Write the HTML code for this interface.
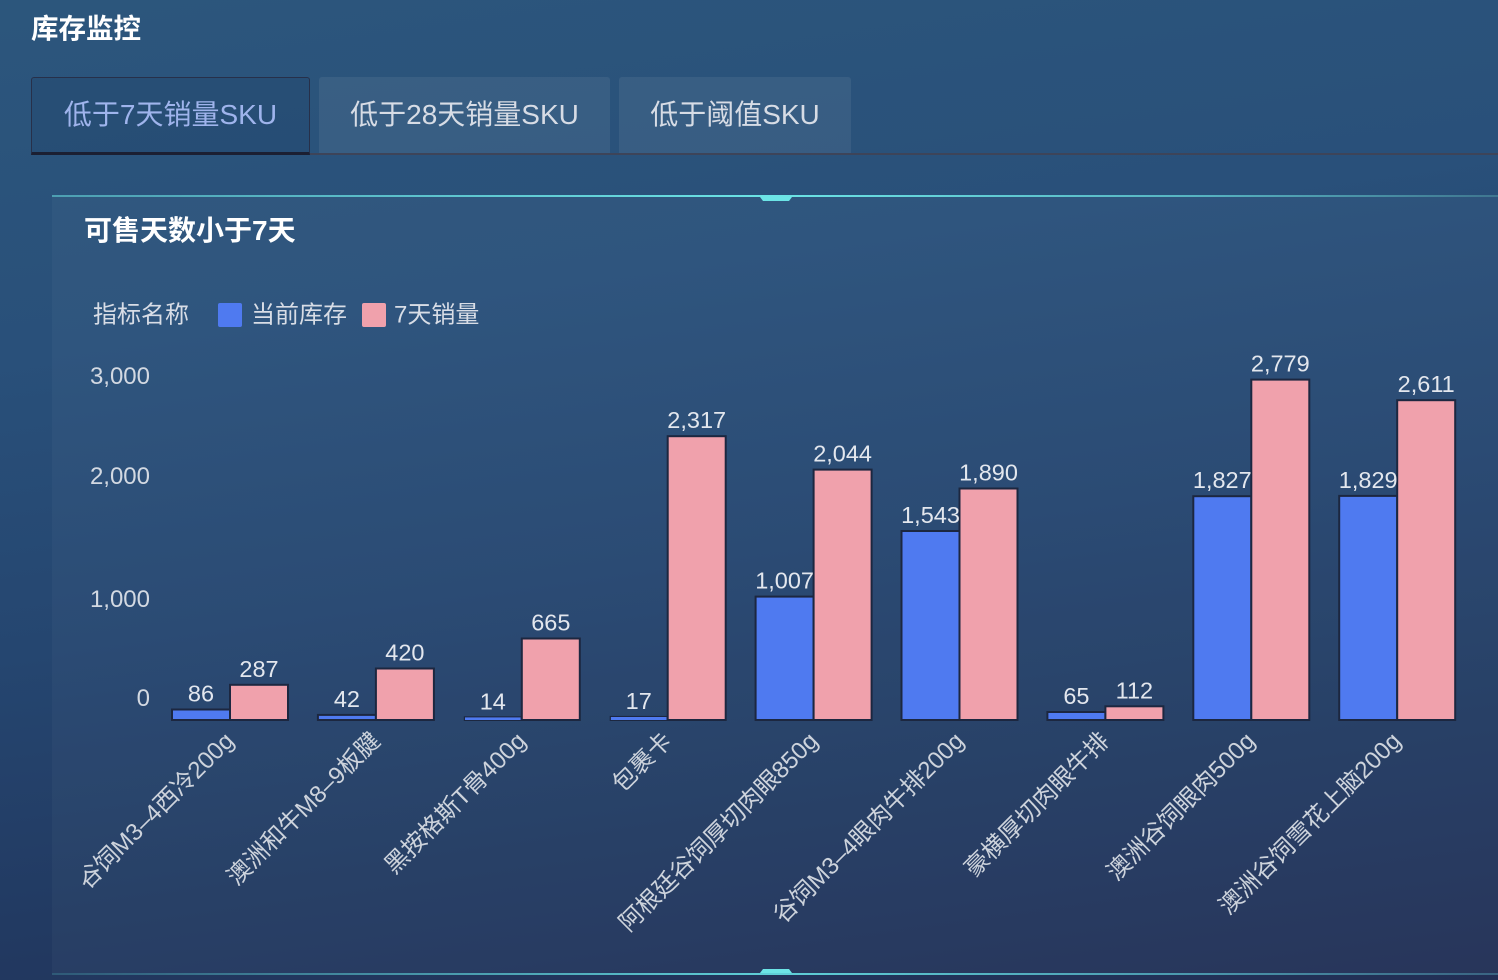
<!DOCTYPE html>
<html>
<head>
<meta charset="utf-8">
<style>
  html,body{margin:0;padding:0;}
  body{width:1498px;height:980px;overflow:hidden;position:relative;
    font-family:"Liberation Sans","Noto Sans CJK SC",sans-serif;
    background:linear-gradient(172deg,#2c567c 0%,#29507a 30%,#254670 55%,#223a62 78%,#222f55 100%);}
  .title{position:absolute;left:31px;top:11px;font-size:27.5px;font-weight:bold;color:#fff;line-height:36px;}
  .tabline{position:absolute;left:31px;top:153px;width:1467px;height:2px;background:#3d4459;}
  .tab{position:absolute;top:77px;height:76px;line-height:76px;font-size:28px;text-align:center;box-sizing:border-box;border-radius:3px 3px 0 0;}
  .t1{left:31px;width:279px;color:#9fb4ec;border:1.5px solid #27304a;border-bottom:3px solid #1b1f32;height:78px;line-height:73px;background:rgba(20,40,70,0.12);}
  .t2{left:319px;width:291px;color:#d7dce5;background:rgba(255,255,255,0.065);}
  .t3{left:619px;width:232px;color:#d7dce5;background:rgba(255,255,255,0.065);}
  .panel{position:absolute;left:52px;top:196px;width:1446px;height:778px;background:rgba(255,255,255,0.03);}
  .ptitle{position:absolute;left:84px;top:213px;font-size:28px;font-weight:bold;color:#fff;line-height:36px;}
  svg{position:absolute;left:0;top:0;}
</style>
</head>
<body>
<div class="title">库存监控</div>
<div class="tab t2">低于28天销量SKU</div>
<div class="tab t3">低于阈值SKU</div>
<div class="tabline"></div>
<div class="tab t1">低于7天销量SKU</div>
<div class="panel"></div>
<div class="ptitle">可售天数小于7天</div>

<svg width="1498" height="980" viewBox="0 0 1498 980" xmlns="http://www.w3.org/2000/svg" font-family="Liberation Sans, Noto Sans CJK SC, sans-serif">
  <defs>
    <linearGradient id="topline" x1="52" y1="0" x2="1498" y2="0" gradientUnits="userSpaceOnUse">
      <stop offset="0" stop-color="#4d9fb2"/>
      <stop offset="0.5" stop-color="#6ce4e6"/>
      <stop offset="0.8" stop-color="#56b2c0"/>
      <stop offset="1" stop-color="#3f7690"/>
    </linearGradient>
    <linearGradient id="botline" x1="52" y1="0" x2="1498" y2="0" gradientUnits="userSpaceOnUse">
      <stop offset="0" stop-color="#2f5a78"/>
      <stop offset="0.5" stop-color="#5fd0d8"/>
      <stop offset="0.8" stop-color="#4a96ac"/>
      <stop offset="1" stop-color="#3a6482"/>
    </linearGradient>
    <clipPath id="clipc"><rect x="82" y="0" width="1416" height="980"/></clipPath>
  </defs>

  <!-- panel borders -->
  <rect x="52" y="195" width="1446" height="2" fill="url(#topline)"/>
  <polygon points="760,197 792,197 789,201 763,201" fill="#6ce4e6"/>
  <rect x="52" y="973" width="1446" height="2" fill="url(#botline)"/>
  <polygon points="763,969 789,969 792,973 760,973" fill="#6ce4e6"/>

  <!-- legend -->
  <g font-size="24" fill="#d8dde6">
    <text x="93" y="315" dominant-baseline="central">指标名称</text>
    <rect x="218" y="303" width="24" height="24" rx="2" fill="#4f7af0"/>
    <text x="251" y="315" dominant-baseline="central">当前库存</text>
    <rect x="362" y="303" width="24" height="24" rx="2" fill="#f0a1ac"/>
    <text x="394" y="315" dominant-baseline="central">7天销量</text>
  </g>

  <!-- y axis labels -->
  <g font-size="24" fill="#d3d9e2" text-anchor="end">
    <text x="150" y="384">3,000</text>
    <text x="150" y="484">2,000</text>
    <text x="150" y="607">1,000</text>
    <text x="150" y="706">0</text>
  </g>

  <!-- bars -->
  <g stroke="#1c2740" stroke-width="2">
    <rect x="172.0" y="709.5" width="58" height="10.5" fill="#4f7af0"/>
    <rect x="230.0" y="684.8" width="58" height="35.2" fill="#f0a1ac"/>
    <rect x="317.9" y="714.9" width="58" height="5.1" fill="#4f7af0"/>
    <rect x="375.9" y="668.5" width="58" height="51.5" fill="#f0a1ac"/>
    <rect x="521.8" y="638.5" width="58" height="81.5" fill="#f0a1ac"/>
    <rect x="667.7" y="436.2" width="58" height="283.8" fill="#f0a1ac"/>
    <rect x="755.6" y="596.6" width="58" height="123.4" fill="#4f7af0"/>
    <rect x="813.6" y="469.6" width="58" height="250.4" fill="#f0a1ac"/>
    <rect x="901.5" y="531.0" width="58" height="189.0" fill="#4f7af0"/>
    <rect x="959.5" y="488.5" width="58" height="231.5" fill="#f0a1ac"/>
    <rect x="1047.4" y="712.0" width="58" height="8.0" fill="#4f7af0"/>
    <rect x="1105.4" y="706.3" width="58" height="13.7" fill="#f0a1ac"/>
    <rect x="1193.3" y="496.2" width="58" height="223.8" fill="#4f7af0"/>
    <rect x="1251.3" y="379.6" width="58" height="340.4" fill="#f0a1ac"/>
    <rect x="1339.2" y="495.9" width="58" height="224.1" fill="#4f7af0"/>
    <rect x="1397.2" y="400.2" width="58" height="319.8" fill="#f0a1ac"/>
  </g>
  <!-- tiny bars: outline + visible fill -->
  <rect x="463.8" y="716.3" width="58" height="4.7" fill="#1c2740"/>
  <rect x="465.0" y="717.4" width="55.6" height="2.6" fill="#4f7af0"/>
  <rect x="609.7" y="715.9" width="58" height="5.1" fill="#1c2740"/>
  <rect x="610.9" y="717.0" width="55.6" height="3.0" fill="#4f7af0"/>

  <!-- value labels -->
  <g font-size="23.5" fill="#e3e7ee" text-anchor="middle">
    <text x="201.0" y="701.5">86</text>
    <text x="259.0" y="676.8">287</text>
    <text x="346.9" y="706.9">42</text>
    <text x="404.9" y="660.5">420</text>
    <text x="492.8" y="709.3">14</text>
    <text x="550.8" y="630.5">665</text>
    <text x="638.7" y="708.9">17</text>
    <text x="696.7" y="428.2">2,317</text>
    <text x="784.6" y="588.6">1,007</text>
    <text x="842.6" y="461.6">2,044</text>
    <text x="930.5" y="523.0">1,543</text>
    <text x="988.5" y="480.5">1,890</text>
    <text x="1076.4" y="704.0">65</text>
    <text x="1134.4" y="698.3">112</text>
    <text x="1222.3" y="488.2">1,827</text>
    <text x="1280.3" y="371.6">2,779</text>
    <text x="1368.2" y="487.9">1,829</text>
    <text x="1426.2" y="392.2">2,611</text>
  </g>

  <!-- x axis labels -->
  <g font-size="24" fill="#cdd3dc" text-anchor="end" clip-path="url(#clipc)">
    <text transform="translate(230,737) rotate(-45)" dominant-baseline="central">谷饲M3–4西冷200g</text>
    <text transform="translate(376,737) rotate(-45)" dominant-baseline="central">澳洲和牛M8–9板腱</text>
    <text transform="translate(522,737) rotate(-45)" dominant-baseline="central">黑按格斯T骨400g</text>
    <text transform="translate(668,737) rotate(-45)" dominant-baseline="central">包裹卡</text>
    <text transform="translate(814,737) rotate(-45)" dominant-baseline="central">阿根廷谷饲厚切肉眼850g</text>
    <text transform="translate(960,737) rotate(-45)" dominant-baseline="central">谷饲M3–4眼肉牛排200g</text>
    <text transform="translate(1105,737) rotate(-45)" dominant-baseline="central">豪横厚切肉眼牛排</text>
    <text transform="translate(1251,737) rotate(-45)" dominant-baseline="central">澳洲谷饲眼肉500g</text>
    <text transform="translate(1397,737) rotate(-45)" dominant-baseline="central">澳洲谷饲雪花上脑200g</text>
  </g>
</svg>
</body>
</html>
